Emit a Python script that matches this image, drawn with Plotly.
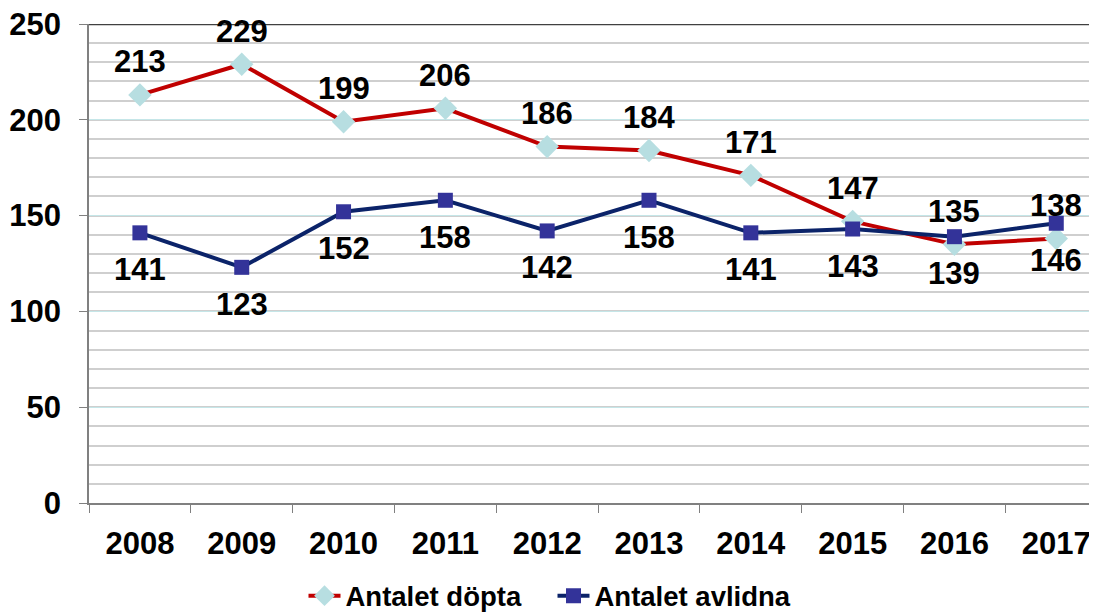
import plotly.graph_objects as go

years = ["2008", "2009", "2010", "2011", "2012", "2013", "2014", "2015", "2016", "2017"]
dopta = [213, 229, 199, 206, 186, 184, 171, 147, 135, 138]
avlidna = [141, 123, 152, 158, 142, 158, 141, 143, 139, 146]
y_ticks = [0, 50, 100, 150, 200, 250]

FONT = "Arial, 'Liberation Sans', sans-serif"

fig = go.Figure()
fig.add_trace(go.Scatter(
    x=years, y=dopta, name="Antalet döpta", mode="lines+markers",
    line=dict(color="#C00000", width=4),
    marker=dict(symbol="diamond", size=18, color="#B7DEE1", line=dict(width=0)),
))
fig.add_trace(go.Scatter(
    x=years, y=avlidna, name="Antalet avlidna", mode="lines+markers",
    line=dict(color="#0B2369", width=4),
    marker=dict(symbol="square", size=15, color="#333399", line=dict(width=0)),
))

annotations = []
for i, v in enumerate(dopta):
    annotations.append(dict(x=i, y=v, xref="x", yref="y", text="<b>%d</b>" % v,
                            showarrow=False, yshift=33,
                            font=dict(family=FONT, size=31, color="black")))
for i, v in enumerate(avlidna):
    annotations.append(dict(x=i, y=v, xref="x", yref="y", text="<b>%d</b>" % v,
                            showarrow=False, yshift=-37,
                            font=dict(family=FONT, size=31, color="black")))

fig.update_layout(
    width=1089, height=606,
    margin=dict(l=81, r=0, t=16, b=111, autoexpand=False),
    paper_bgcolor="white", plot_bgcolor="white",
    font=dict(family=FONT, size=28, color="black"),
    showlegend=True,
    legend=dict(orientation="h", x=0.5, xanchor="center", xref="container",
                y=0.03, yanchor="middle", yref="container",
                font=dict(family=FONT, size=27.5, color="black", weight="bold"),
                itemwidth=32, entrywidth=202, tracegroupgap=0),
    annotations=annotations,
)
fig.update_xaxes(
    type="category", range=[-0.5, 9.4], automargin=False,
    tickson="boundaries", ticks="outside", ticklen=8, tickcolor="#808080",
    showline=True, linecolor="#808080", linewidth=1.5,
    showgrid=False, ticklabelstandoff=12, ticklabeloverflow="allow",
    tickfont=dict(family=FONT, size=31, color="black", weight="bold"),
)
fig.update_yaxes(
    range=[0, 250], tickvals=y_ticks, ticks="outside", ticklen=8, tickcolor="#808080",
    showline=True, linecolor="#808080", linewidth=1.5, automargin=False,
    showgrid=True, gridcolor="#C5E6E8", gridwidth=1,
    minor=dict(dtick=10, showgrid=True, gridcolor="#CFCFCF", gridwidth=1.5, ticks=""),
    zeroline=False, ticklabeloverflow="allow",
    tickfont=dict(family=FONT, size=31, color="black", weight="bold"),
    ticklabelstandoff=12,
)
fig.add_shape(type="line", xref="paper", yref="y", x0=0, x1=1, y0=250, y1=250,
              line=dict(color="#404040", width=2.5))

fig.write_html("out.html")
